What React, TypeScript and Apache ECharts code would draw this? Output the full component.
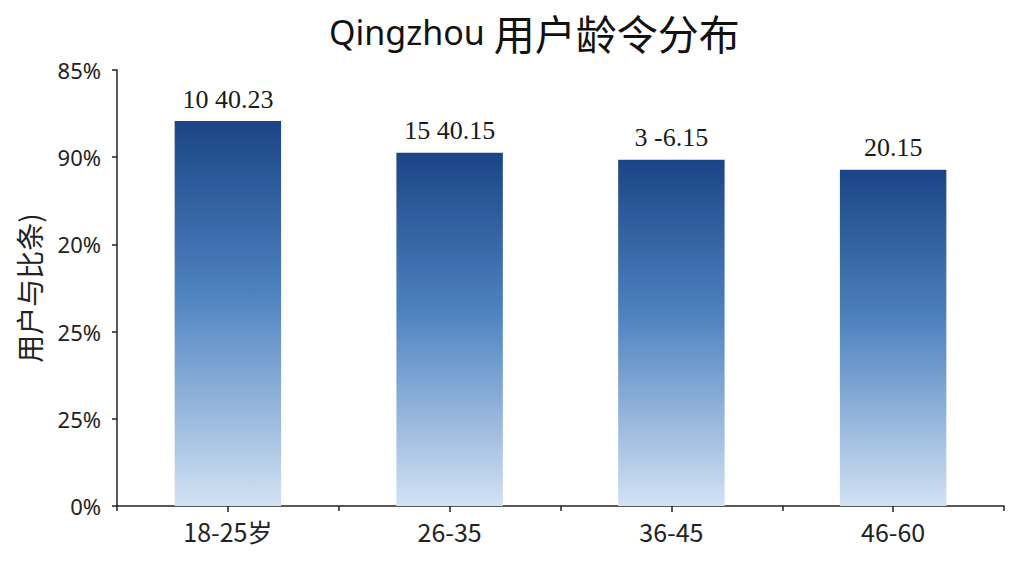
import { useEffect, useRef } from 'react';
import * as echarts from 'echarts';

// data
const categories = ['18-25岁', '26-35', '36-45', '46-60'];
const shares = [88.3, 81, 79.4, 77.1];
const barLabels = ['10 40.23', '15 40.15', '3 -6.15', '20.15'];
const yTickLabels = ['0%', '25%', '25%', '20%', '90%', '85%'];

const App = () => {
  const chartRef = useRef<HTMLDivElement>(null);

  useEffect(() => {
    if (!chartRef.current) return;
    const chart = echarts.init(chartRef.current, null, { renderer: 'svg' });

    const options: echarts.EChartsOption = {
      animation: false,
      backgroundColor: '#ffffff',
      title: {
        text: '{a|Qingzhou }{b|用户龄令分布}',
        left: 324,
        top: 6,
        textStyle: {
          rich: {
            a: { fontSize: 34, color: '#111', fontFamily: 'Noto Sans', fontWeight: 'normal' },
            b: { fontSize: 41, color: '#111', fontFamily: 'Noto Sans CJK SC', fontWeight: 'normal' }
          }
        }
      },
      grid: {
        left: 117,
        right: 20,
        top: 70,
        bottom: 70
      },
      xAxis: [
        {
          type: 'category',
          data: categories,
          axisLine: { lineStyle: { color: '#222', width: 1.5 } },
          axisTick: { show: true, length: 5, lineStyle: { color: '#222', width: 1.5 } },
          axisLabel: {
            color: '#222',
            fontSize: 25,
            fontFamily: 'Noto Sans CJK SC',
            margin: 12
          }
        },
        {
          type: 'category',
          data: categories,
          position: 'bottom',
          axisLine: { show: false },
          axisTick: { show: true, alignWithLabel: true, length: 6, lineStyle: { color: '#222', width: 1.5 } },
          axisLabel: { show: false }
        }
      ],
      yAxis: {
        type: 'value',
        min: 0,
        max: 100,
        interval: 20,
        name: '用户与比条)',
        nameLocation: 'middle',
        nameGap: 74,
        nameRotate: 90,
        nameTextStyle: { fontSize: 28, color: '#222', fontFamily: 'Noto Sans CJK SC' },
        axisLine: { show: true, lineStyle: { color: '#222', width: 1.5 } },
        axisTick: { show: true, length: 5, lineStyle: { color: '#222', width: 1.5 } },
        splitLine: { show: false },
        axisLabel: {
          color: '#222',
          fontSize: 22,
          fontFamily: 'Noto Sans',
          margin: 16,
          formatter: (v: number) => yTickLabels[Math.round(v / 20)] ?? ''
        }
      },
      series: [
        {
          type: 'bar',
          data: shares,
          barWidth: '48%',
          itemStyle: {
            color: new echarts.graphic.LinearGradient(0, 0, 0, 1, [
              { offset: 0, color: '#1b4586' },
              { offset: 0.45, color: '#4f82c0' },
              { offset: 1, color: '#d2e2f3' }
            ])
          },
          label: {
            show: true,
            position: 'top',
            distance: 9,
            color: '#1a1a1a',
            fontSize: 26,
            fontFamily: 'Liberation Serif',
            formatter: (p: any) => barLabels[p.dataIndex]
          }
        }
      ]
    };

    chart.setOption(options);

    const handleResize = () => chart.resize();
    window.addEventListener('resize', handleResize);
    return () => {
      window.removeEventListener('resize', handleResize);
      chart.dispose();
    };
  }, []);

  return (
    <div
      ref={chartRef}
      style={{
        position: 'fixed',
        left: 0,
        top: 0,
        width: '1024px',
        height: '576px'
      }}
    />
  );
};

export default App;
